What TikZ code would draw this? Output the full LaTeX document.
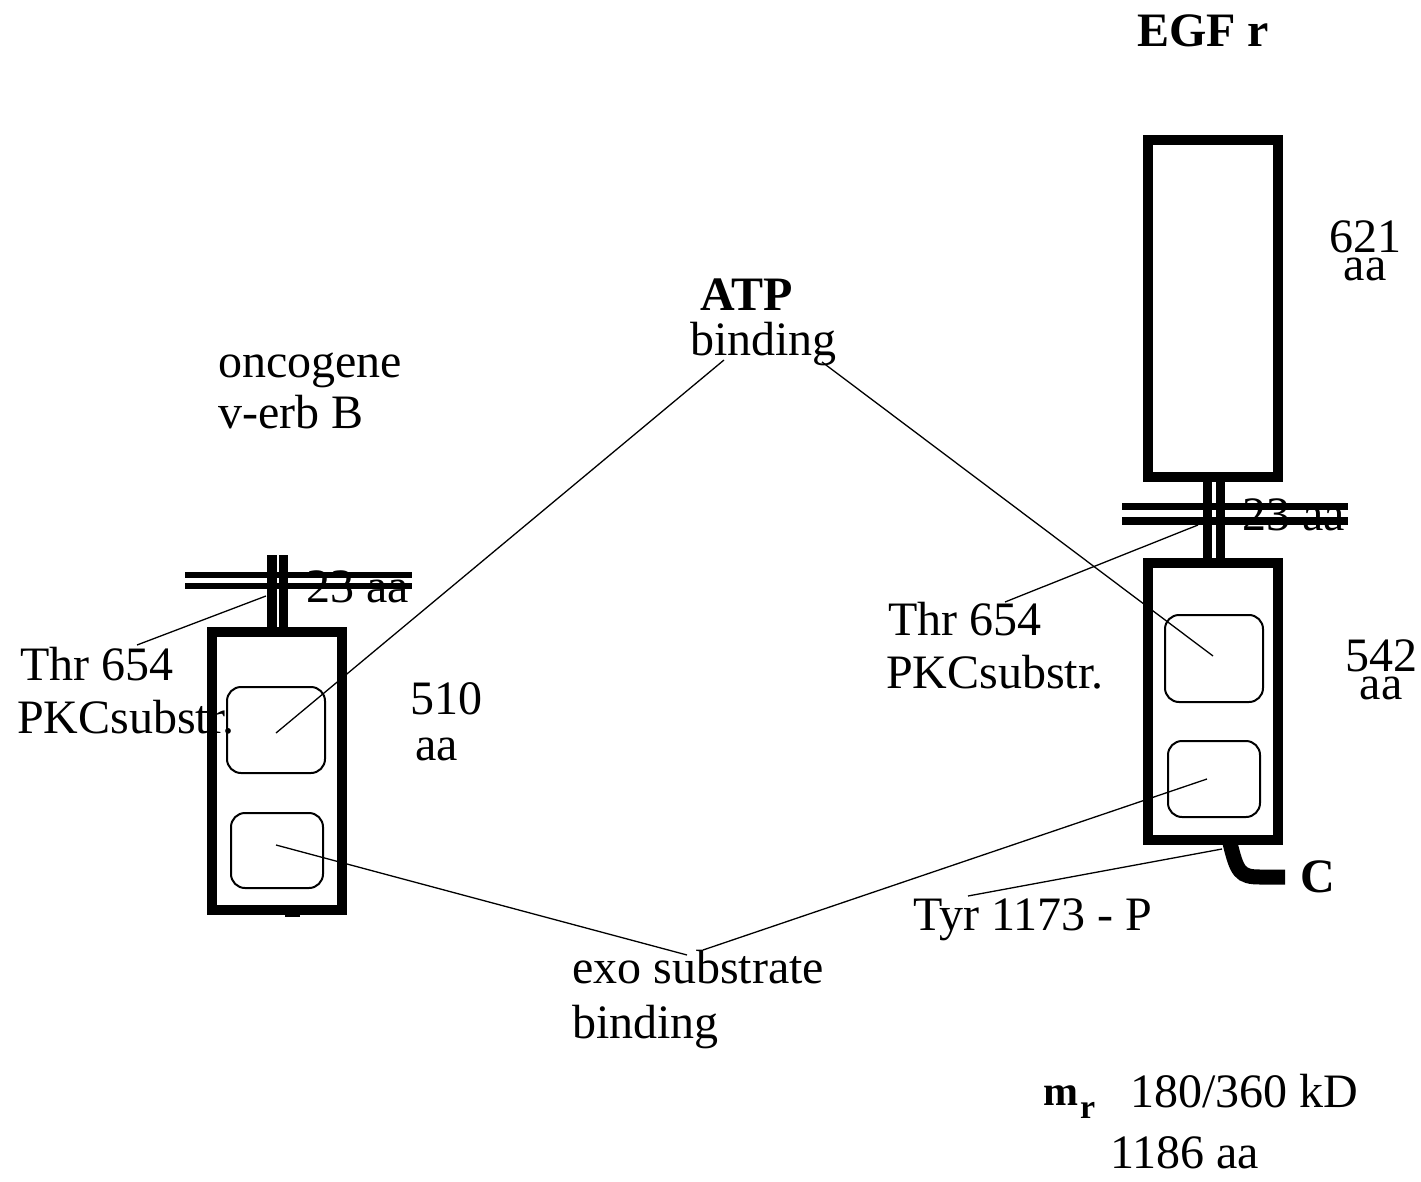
\documentclass[tikz,border=0pt]{standalone}
\usepackage{fontspec}
\setmainfont{Liberation Serif}
\begin{document}
\begin{tikzpicture}[x=1pt,y=-1pt,
  thickbox/.style={line width=10.5pt},
  domainbox/.style={line width=2pt, rounded corners=14pt},
  leader/.style={line width=1.3pt},
  lbl/.style={inner sep=0pt, anchor=base west, font=\fontsize{48}{55}\selectfont},
  lblb/.style={inner sep=0pt, anchor=base west, font=\fontsize{48}{55}\selectfont\bfseries},
  sizelbl/.style={inner sep=0pt, anchor=north, align=center, font=\fontsize{48}{28}\selectfont}]
\useasboundingbox (0,0) rectangle (1421,1182);

% ---------- left molecule (v-erb B) ----------
\fill (185,572) rectangle (412,578);
\fill (185,583) rectangle (412,589);
\fill (267,555) rectangle (277,632);
\fill (279,555) rectangle (288,632);
\draw[thickbox] (212,632) rectangle (342,910);
\fill (285,910) rectangle (300,917);
\draw[domainbox] (227,687) rectangle (325,773);
\draw[domainbox] (231,813) rectangle (323,888);

% ---------- right molecule (EGF r) ----------
\draw[thickbox] (1148,140) rectangle (1278,477);
\fill (1122,503) rectangle (1348,510);
\fill (1122,517) rectangle (1348,525);
\fill (1203,477) rectangle (1212,563);
\fill (1216,477) rectangle (1225,563);
\draw[thickbox] (1148,563) rectangle (1278,840);
\draw[domainbox] (1165,615) rectangle (1263,702);
\draw[domainbox] (1168,741) rectangle (1260,817);
\draw[line width=15pt] (1230,843) .. controls (1237,872) and (1240,877) .. (1260,877) -- (1285,877);

% ---------- connector end points ----------
\coordinate (atpA) at (724,360);
\coordinate (atpB) at (822,362);
\coordinate (domLup) at (276,733);
\coordinate (domRup) at (1213,656);
\coordinate (exoA) at (687,955);
\coordinate (exoB) at (703,950);
\coordinate (domLlo) at (276,845);
\coordinate (domRlo) at (1207,779);
\coordinate (thrLa) at (137,645);
\coordinate (stalkL) at (266,596);
\coordinate (thrRa) at (1005,602);
\coordinate (stalkR) at (1198,525);
\coordinate (tyrA) at (968,896);
\coordinate (tailR) at (1222,849);

\draw[leader] (atpA) -- (domLup);
\draw[leader] (atpB) -- (domRup);
\draw[leader] (exoA) -- (domLlo);
\draw[leader] (exoB) -- (domRlo);
\draw[leader] (thrLa) -- (stalkL);
\draw[leader] (thrRa) -- (stalkR);
\draw[leader] (tyrA) -- (tailR);

% ---------- labels ----------
\node[lblb] (egf) at (1137,47) {EGF r};
\node[sizelbl] (n621) at (1365,221) {621\\aa};
\node[lblb] (atp) at (700,310) {ATP};
\node[lbl] (atpb) at (690,355) {binding};
\node[lbl] (onc) at (218,377) {oncogene};
\node[lbl] (verb) at (218,428) {v-erb B};
\node[lbl] (tmL) at (306,602) {23 aa};
\node[lbl] (tmR) at (1242,530) {23 aa};
\node[lbl] (thrL) at (20,680) {Thr 654};
\node[lbl] (pkcL) at (17,733) {PKCsubstr.};
\node[lbl] (n510) at (410,714) {510};
\node[lbl] (aa510) at (415,760) {aa};
\node[lbl] (thrR) at (888,635) {Thr 654};
\node[lbl] (pkcR) at (886,688) {PKCsubstr.};
\node[sizelbl] (n542) at (1381,640) {542\\aa};
\node[lblb] (cterm) at (1300,892) {C};
\node[lbl] (tyr) at (913,930) {Tyr 1173 - P};
\node[lbl] (exo) at (572,983) {exo substrate};
\node[lbl] (exob) at (572,1038) {binding};
\node[inner sep=0pt, anchor=base west, font=\fontsize{42}{48}\selectfont\bfseries] (mr) at (1043,1105) {m};
\node[inner sep=0pt, anchor=base west, font=\fontsize{34}{40}\selectfont\bfseries] (mrsub) at (1080,1118) {r};
\node[lbl] (kd) at (1130,1107) {180/360 kD};
\node[lbl] (aa1186) at (1110,1168) {1186 aa};
\end{tikzpicture}
\end{document}
